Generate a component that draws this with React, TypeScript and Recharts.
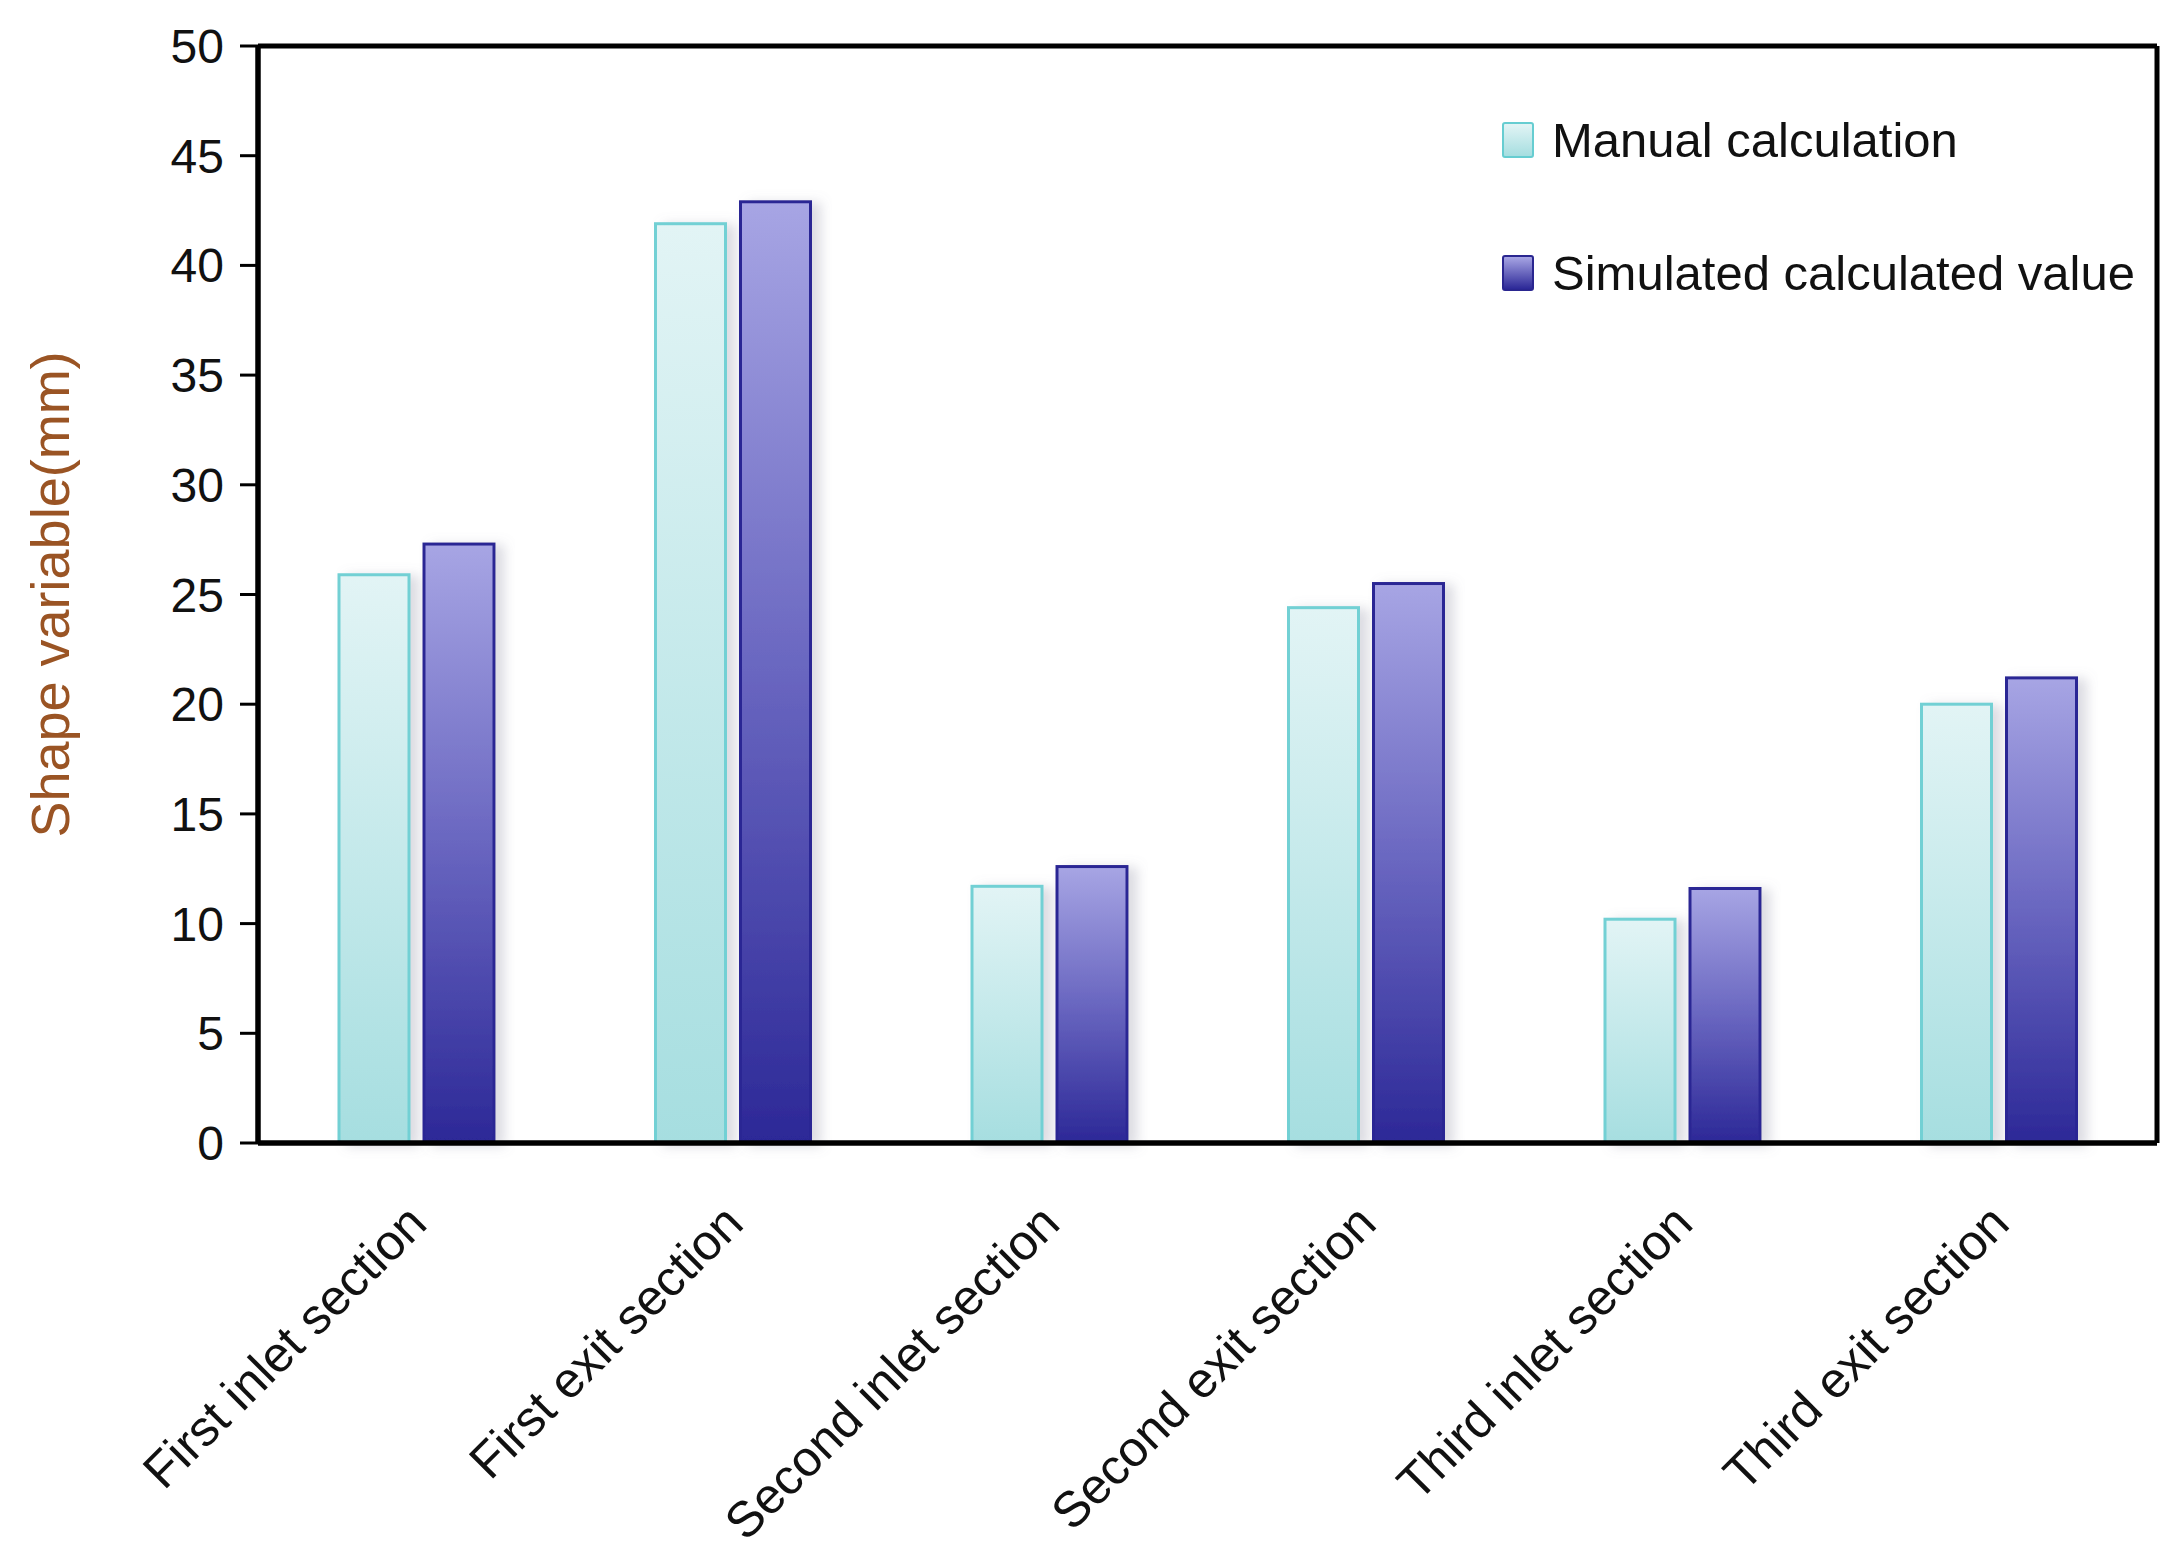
import React from 'react';
import { BarChart, Bar, XAxis, YAxis, CartesianGrid } from 'recharts';

const categories = [
  'First inlet section',
  'First exit section',
  'Second inlet section',
  'Second exit section',
  'Third inlet section',
  'Third exit section',
];
const manualValues = [25.9, 41.9, 11.7, 24.4, 10.2, 20.0];
const simulatedValues = [27.3, 42.9, 12.6, 25.5, 11.6, 21.2];
const yTicks = [0, 5, 10, 15, 20, 25, 30, 35, 40, 45, 50];
const seriesNames = ['Manual calculation', 'Simulated calculated value'];

const data = categories.map((c, i) => ({ name: c, manual: manualValues[i], sim: simulatedValues[i] }));

const FONT = '"Liberation Sans", Arial, sans-serif';

const XTick = (props: any) => {
  const { x, y, payload } = props;
  return (
    <g transform={`translate(${x + 13},${y + 83})`}>
      <text transform="rotate(-45)" textAnchor="end" fontSize={50} fontFamily={FONT} fill="#111">
        {payload.value}
      </text>
    </g>
  );
};

const YTick = (props: any) => {
  const { x, y, payload } = props;
  return (
    <text x={x} y={y} dy={17} textAnchor="end" fontSize={48} fontFamily={FONT} fill="#111">
      {payload.value}
    </text>
  );
};

const makeShape = (fill: string, stroke: string) => (props: any) => {
  const { x, y, width, height } = props;
  if (!height || height <= 0) return null;
  return (
    <rect
      x={x}
      y={y}
      width={width}
      height={height}
      fill={fill}
      stroke={stroke}
      strokeWidth={3}
      filter="url(#barShadow)"
    />
  );
};

const LegendBox = () => (
  <div
    style={{
      position: 'absolute',
      left: 1502,
      top: 73,
      fontFamily: FONT,
      fontSize: 49,
      color: '#111',
      whiteSpace: 'nowrap',
    }}
  >
    {seriesNames.map((n, i) => (
      <div key={n} style={{ display: 'flex', alignItems: 'center', height: 133 }}>
        <div
          style={{
            width: 32,
            height: 36,
            borderRadius: 3,
            marginRight: 18,
            boxSizing: 'border-box',
            border: i === 0 ? '2px solid #66cdd1' : '2px solid #2a2690',
            background:
              i === 0
                ? 'linear-gradient(#e2f4f5, #a6dee0)'
                : 'linear-gradient(#a7a5e4, #2c2897)',
          }}
        />
        <span>{n}</span>
      </div>
    ))}
  </div>
);

export default function App() {
  return (
    <div style={{ position: 'absolute', left: 0, top: 0, width: 2181, height: 1560, background: '#fff' }}>
      <BarChart
        width={2181}
        height={1560}
        data={data}
        margin={{ top: 46, right: 24, bottom: 387, left: 130 }}
        barSize={70}
        barGap={15}
      >
        <defs>
          <linearGradient id="gManual" x1="0" y1="0" x2="0" y2="1">
            <stop offset="0%" stopColor="#e2f4f5" />
            <stop offset="100%" stopColor="#a6dee0" />
          </linearGradient>
          <linearGradient id="gSim" x1="0" y1="0" x2="0" y2="1">
            <stop offset="0%" stopColor="#a7a5e4" />
            <stop offset="50%" stopColor="#6966c0" />
            <stop offset="100%" stopColor="#2c2897" />
          </linearGradient>
          <filter id="barShadow" x="-30%" y="-10%" width="160%" height="120%">
            <feDropShadow dx="9" dy="2" stdDeviation="6" floodColor="#8a8aa0" floodOpacity="0.3" />
          </filter>
        </defs>
        <CartesianGrid
          stroke="#000"
          strokeWidth={5}
          horizontalCoordinatesGenerator={({ offset }: any) => [offset.top]}
          verticalCoordinatesGenerator={({ offset }: any) => [offset.left + offset.width]}
        />
        <XAxis
          dataKey="name"
          tick={<XTick />}
          tickLine={false}
          tickSize={0}
          tickMargin={0}
          interval={0}
          height={30}
          axisLine={{ stroke: '#000', strokeWidth: 5.5 }}
        />
        <YAxis
          domain={[0, 50]}
          ticks={yTicks}
          interval={0}
          width={128}
          tick={<YTick />}
          tickSize={18}
          tickMargin={16}
          tickLine={{ stroke: '#000', strokeWidth: 3 }}
          axisLine={{ stroke: '#000', strokeWidth: 5.5 }}
          label={{
            value: 'Shape variable(mm)',
            angle: -90,
            position: 'insideLeft',
            offset: -80,
            style: { fontSize: 54, fontFamily: FONT, fill: '#9a5424', textAnchor: 'middle' },
          }}
        />
        <Bar
          dataKey="manual"
          name={seriesNames[0]}
          isAnimationActive={false}
          shape={makeShape('url(#gManual)', '#72d0d4')}
        />
        <Bar
          dataKey="sim"
          name={seriesNames[1]}
          isAnimationActive={false}
          shape={makeShape('url(#gSim)', '#2c2894')}
        />
      </BarChart>
      <LegendBox />
    </div>
  );
}
